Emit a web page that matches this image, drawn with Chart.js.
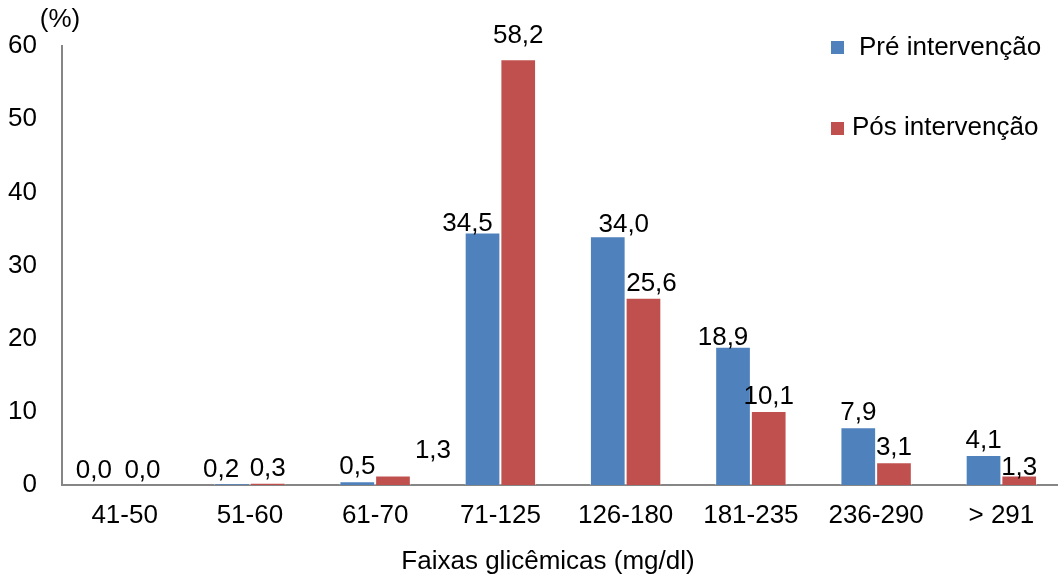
<!DOCTYPE html>
<html>
<head>
<meta charset="utf-8">
<script src="https://cdn.jsdelivr.net/npm/chart.js@4/dist/chart.umd.min.js"></script>
<style>
  html, body { margin: 0; padding: 0; background: #fff; overflow: hidden; }
  #wrap { width: 1058px; height: 576px; overflow: hidden; position: relative; }
  canvas { display: block; }
</style>
</head>
<body>
<div id="wrap"><canvas id="chart" width="1064" height="576"></canvas></div>
<script>
// Glycaemic ranges and share of measurements (%) before / after the intervention
const categories = ['41-50', '51-60', '61-70', '71-125', '126-180', '181-235', '236-290', '> 291'];
const preValues  = [0.0, 0.2, 0.5, 34.5, 34.0, 18.9, 7.9, 4.1];
const posValues  = [0.0, 0.3, 1.3, 58.2, 25.6, 10.1, 3.1, 1.3];
const yTicks     = [0, 10, 20, 30, 40, 50, 60];
const seriesNames = ['Pré intervenção', 'Pós intervenção'];
const xTitle = 'Faixas glicêmicas (mg/dl)';
const yUnit = '(%)';

const FONT = "'Liberation Sans', Arial, sans-serif";
const BLUE = '#4F81BD';
const RED = '#C0504D';
const AXIS = '#868686';

const fmt = v => v.toFixed(1).replace('.', ',');

// Value labels above each bar; a few are nudged sideways/vertically so neighbours do not collide
const valueLabels = {
  id: 'valueLabels',
  afterDatasetsDraw(chart, args, opts) {
    const ctx = chart.ctx;
    ctx.save();
    ctx.font = '26px ' + FONT;
    ctx.fillStyle = '#000';
    ctx.textAlign = 'center';
    ctx.textBaseline = 'alphabetic';
    chart.data.datasets.forEach((ds, di) => {
      const meta = chart.getDatasetMeta(di);
      meta.data.forEach((bar, i) => {
        const n = opts.nudge[di + ':' + i] || [0, 0];
        ctx.fillText(fmt(ds.data[i]), bar.x + n[0], bar.y - opts.gap + n[1]);
      });
    });
    ctx.restore();
  }
};

// Unit label, axis title and the legend block
const decorations = {
  id: 'decorations',
  afterDraw(chart) {
    const ctx = chart.ctx;
    const area = chart.chartArea;
    ctx.save();
    ctx.font = '26px ' + FONT;
    ctx.fillStyle = '#000';
    ctx.textBaseline = 'middle';

    ctx.textAlign = 'center';
    ctx.fillText(yUnit, area.left - 2, area.top - 26);
    ctx.fillText(xTitle, (area.left + area.right) / 2 - 15, 562);

    ctx.textAlign = 'left';
    const colors = [BLUE, RED];
    const rows = [{ sq: 41, ty: 48, tx: 859 }, { sq: 122, ty: 128, tx: 852 }];
    rows.forEach((r, k) => {
      ctx.fillStyle = colors[k];
      ctx.fillRect(831, r.sq, 13, 13);
      ctx.fillStyle = '#000';
      ctx.fillText(seriesNames[k], r.tx, r.ty);
    });
    ctx.restore();
  }
};

new Chart(document.getElementById('chart'), {
  type: 'bar',
  data: {
    labels: categories,
    datasets: [
      { label: seriesNames[0], data: preValues, backgroundColor: BLUE,
        borderColor: 'rgba(255,255,255,0.45)', borderWidth: 1 },
      { label: seriesNames[1], data: posValues, backgroundColor: RED,
        borderColor: 'rgba(255,255,255,0.45)', borderWidth: 1 }
    ]
  },
  options: {
    responsive: false,
    animation: false,
    events: [],
    layout: { padding: { top: 46, left: 0, right: 0, bottom: 0 } },
    datasets: { bar: { categoryPercentage: 0.57, barPercentage: 1.0 } },
    plugins: {
      legend: { display: false },
      tooltip: { enabled: false },
      valueLabels: {
        gap: 7,
        nudge: {
          '0:0': [-13, 0],
          '0:1': [-11, 0],
          '1:2': [40, -10],
          '0:3': [-15, 5],
          '1:3': [0, -9],
          '0:4': [16, 3],
          '1:4': [8, 0],
          '0:5': [-10, 5],
          '1:7': [0, 7]
        }
      }
    },
    scales: {
      x: {
        grid: { display: false, drawTicks: false },
        border: { display: true, color: AXIS, width: 2 },
        ticks: { color: '#000', font: { family: FONT, size: 26 }, padding: 15, maxRotation: 0, autoSkip: false },
        afterFit: s => { s.height = 91; }
      },
      y: {
        min: 0,
        max: 60,
        grid: { display: false, drawTicks: false },
        border: { display: true, color: AXIS, width: 2 },
        ticks: { color: '#000', font: { family: FONT, size: 26 }, padding: 25 },
        afterBuildTicks: s => { s.ticks = yTicks.map(v => ({ value: v })); },
        afterFit: s => { s.width = 62; }
      }
    }
  },
  plugins: [valueLabels, decorations]
});
</script>
</body>
</html>
